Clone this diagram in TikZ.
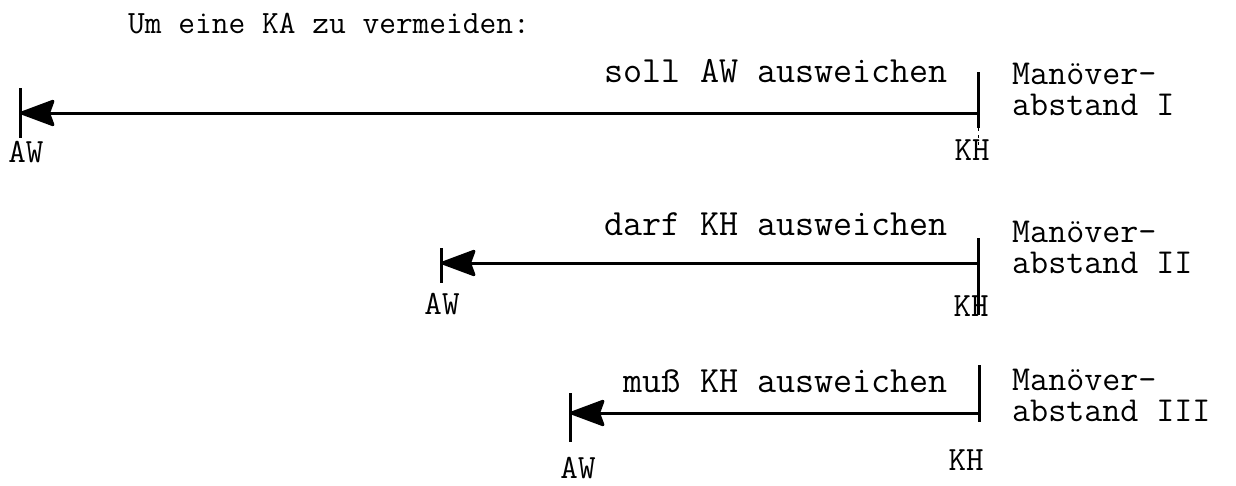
\documentclass[tikz,border=0pt]{standalone}
\usepackage{fontspec}
\usetikzlibrary{arrows.meta}

\tikzset{
  typed/.style={inner sep=0pt, text height=19pt, text depth=5pt,
    font=\ttfamily\fontsize{37}{30}\selectfont},
  side/.style={inner sep=0pt, align=left,
    font=\ttfamily\fontsize{35}{30.5}\selectfont},
  title/.style={inner sep=0pt, font=\ttfamily\fontsize{32.5}{30}\selectfont},
  tag/.style={inner sep=0pt, text height=19pt, text depth=2pt,
    font=\ttfamily\fontsize{34}{30}\selectfont},
  rule/.style={line width=3pt},
  course/.style={line width=3pt, -{Stealth[length=38pt,width=28pt,inset=5pt,round]}},
  faint/.style={line width=1pt, dash pattern=on 3pt off 4pt},
}

\begin{document}
\begin{tikzpicture}[x=1pt,y=-1pt]
  \useasboundingbox (0,0) rectangle (1236,485);

  \node[title, anchor=base west] (head) at (128,33) {Um eine KA zu vermeiden:};

  % --- Manoeverabstand I ---
  \coordinate (kh1) at (978,113);
  \coordinate (aw1) at (20,113);
  \coordinate (kh1top) at (978,72);
  \coordinate (kh1bot) at (978,128);
  \coordinate (kh1end) at (978,150);
  \coordinate (aw1top) at (20,88);
  \coordinate (aw1bot) at (20,138);
  \draw[rule] (kh1top) -- (kh1bot);
  \draw[faint] (kh1bot) -- (kh1end);
  \draw[rule] (aw1top) -- (aw1bot);
  \draw[course] (kh1) -- (aw1);
  \node[typed, anchor=base east] (lab1) at (948,82) {soll AW ausweichen};
  \node[side, anchor=base west] (ma1) at (1012,115) {Manöver-\\abstand I};
  \node[tag, anchor=base] (awt1) at (26,162) {AW};
  \node[tag, anchor=base] (kht1) at (972,160) {KH};

  % --- Manoeverabstand II ---
  \coordinate (kh2) at (978,263);
  \coordinate (aw2) at (441,263);
  \coordinate (kh2top) at (978,238);
  \coordinate (kh2bot) at (978,315);
  \coordinate (aw2top) at (441,248);
  \coordinate (aw2bot) at (441,283);
  \draw[rule] (kh2top) -- (kh2bot);
  \draw[rule] (aw2top) -- (aw2bot);
  \draw[course] (kh2) -- (aw2);
  \node[typed, anchor=base east] (lab2) at (948,235) {darf KH ausweichen};
  \node[side, anchor=base west] (ma2) at (1012,273) {Manöver-\\abstand II};
  \node[tag, anchor=base] (awt2) at (442,314) {AW};
  \node[tag, anchor=base] (kht2) at (971,316) {KH};

  % --- Manoeverabstand III ---
  \coordinate (kh3) at (979,413);
  \coordinate (aw3) at (570,413);
  \coordinate (kh3top) at (979,365);
  \coordinate (kh3bot) at (979,422);
  \coordinate (aw3top) at (570,393);
  \coordinate (aw3bot) at (570,442);
  \draw[rule] (kh3top) -- (kh3bot);
  \draw[rule] (aw3top) -- (aw3bot);
  \draw[course] (kh3) -- (aw3);
  \node[typed, anchor=base east] (lab3) at (948,392) {muß KH ausweichen};
  \node[side, anchor=base west] (ma3) at (1012,421) {Manöver-\\abstand III};
  \node[tag, anchor=base] (awt3) at (578,478) {AW};
  \node[tag, anchor=base] (kht3) at (966,470) {KH};
\end{tikzpicture}
\end{document}
